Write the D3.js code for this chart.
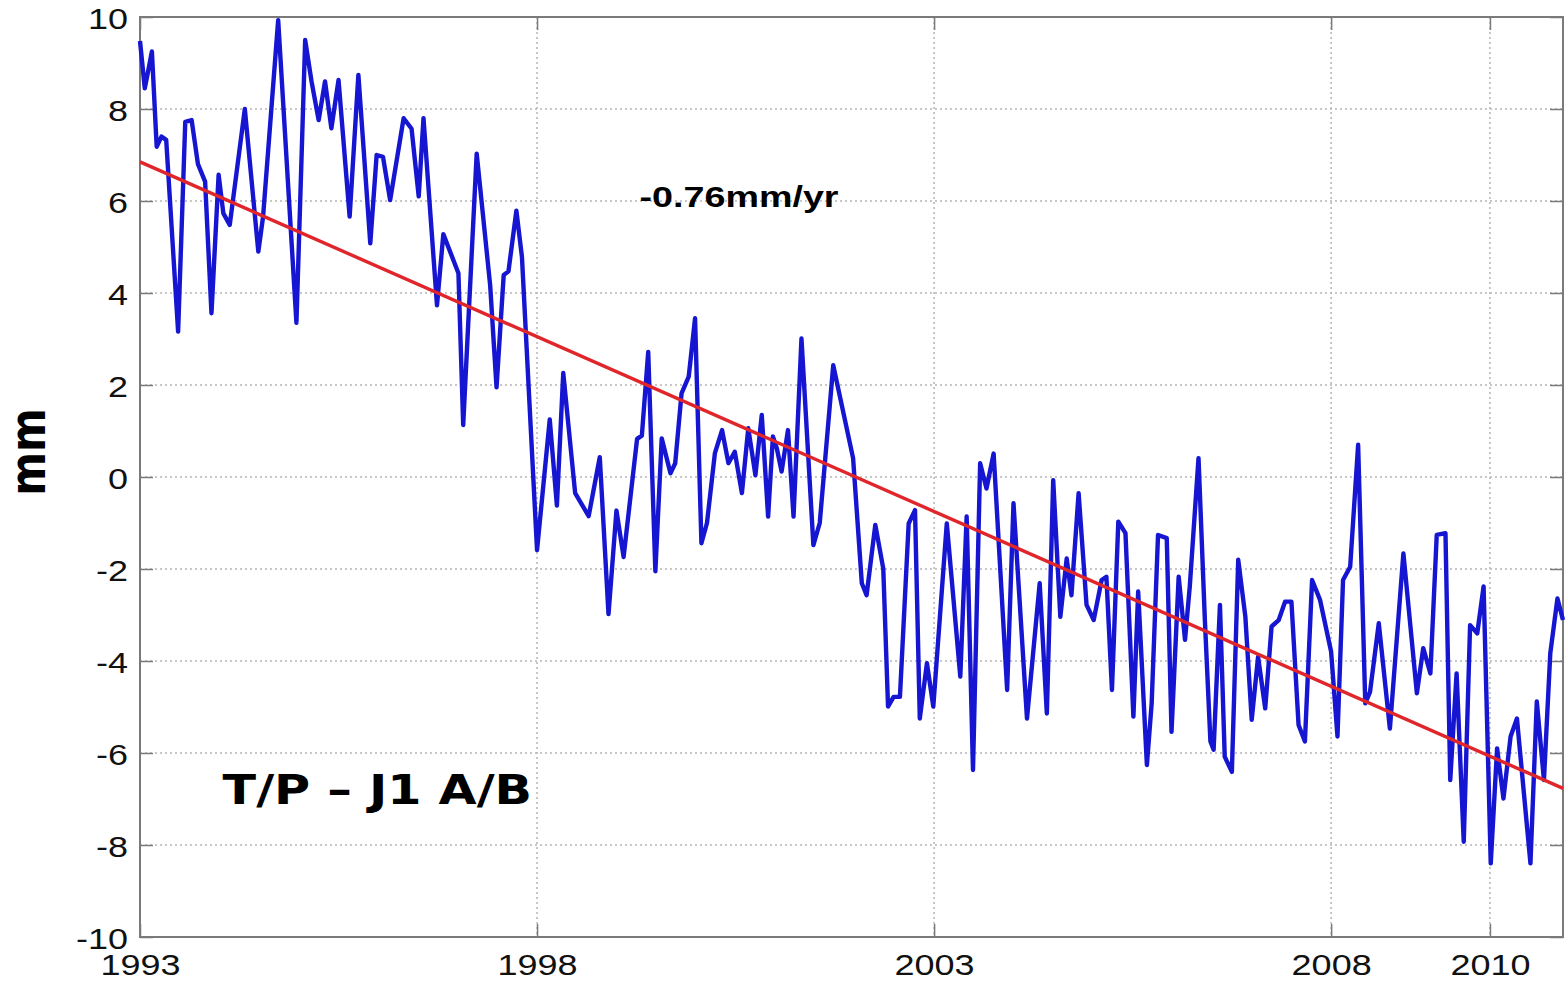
<!DOCTYPE html>
<html>
<head>
<meta charset="utf-8">
<script src="https://cdn.jsdelivr.net/npm/d3@7"></script>
<style>
body{margin:0;background:#fff;}
svg{display:block;}
</style>
</head>
<body>
<div id="chart"></div>
<script>
// sea level anomaly, mm
const years = [1993.00,1993.06,1993.10,1993.15,1993.21,1993.27,1993.33,1993.48,1993.57,1993.65,
1993.73,1993.82,1993.90,1993.99,1994.05,1994.13,1994.32,1994.49,1994.55,1994.74,
1994.97,1995.08,1995.16,1995.25,1995.33,1995.41,1995.50,1995.64,1995.75,1995.90,
1995.98,1996.06,1996.15,1996.32,1996.42,1996.51,1996.57,1996.74,1996.82,1997.01,
1997.07,1997.24,1997.41,1997.49,1997.58,1997.64,1997.74,1997.81,1998.00,1998.16,
1998.25,1998.33,1998.48,1998.65,1998.79,1998.90,1999.00,1999.09,1999.26,1999.32,
1999.40,1999.49,1999.57,1999.68,1999.74,1999.82,1999.91,1999.99,2000.07,2000.14,
2000.24,2000.33,2000.41,2000.49,2000.58,2000.66,2000.75,2000.83,2000.91,2000.97,
2001.02,2001.08,2001.16,2001.23,2001.33,2001.48,2001.56,2001.73,2001.98,2002.09,
2002.15,2002.26,2002.36,2002.42,2002.49,2002.57,2002.68,2002.76,2002.82,2002.91,
2002.99,2003.16,2003.33,2003.41,2003.49,2003.58,2003.66,2003.75,2003.92,2004.00,
2004.17,2004.33,2004.42,2004.50,2004.59,2004.67,2004.73,2004.82,2004.92,2005.01,
2005.11,2005.17,2005.24,2005.32,2005.41,2005.51,2005.57,2005.68,2005.74,2005.82,
2005.93,2005.99,2006.08,2006.16,2006.22,2006.33,2006.41,2006.48,2006.52,2006.60,
2006.66,2006.75,2006.83,2006.92,2007.00,2007.08,2007.17,2007.25,2007.34,2007.42,
2007.50,2007.59,2007.67,2007.76,2007.86,2008.00,2008.08,2008.15,2008.24,2008.34,
2008.43,2008.49,2008.60,2008.74,2008.91,2009.08,2009.16,2009.25,2009.33,2009.44,
2009.50,2009.58,2009.67,2009.75,2009.84,2009.92,2010.01,2010.09,2010.17,2010.26,
2010.34,2010.51,2010.59,2010.68,2010.76,2010.85,2010.92];

const sla = [9.48,8.45,8.8,9.25,7.18,7.4,7.33,3.16,7.72,7.76,
6.8,6.42,3.56,6.57,5.73,5.48,8.0,4.9,5.66,9.93,
3.35,9.5,8.6,7.76,8.6,7.58,8.63,5.66,8.74,5.08,
7.0,6.96,6.02,7.8,7.57,6.1,7.8,3.73,5.28,4.43,
1.13,7.03,4.16,1.95,4.39,4.47,5.79,4.78,-1.59,1.25,
-0.62,2.26,-0.35,-0.85,0.43,-2.98,-0.73,-1.74,0.83,0.9,
2.72,-2.05,0.84,0.08,0.3,1.82,2.18,3.45,-1.44,-1.0,
0.52,1.02,0.3,0.55,-0.35,1.06,0.04,1.35,-0.86,0.88,
0.62,0.12,1.02,-0.86,3.01,-1.48,-1.0,2.43,0.41,-2.31,
-2.57,-1.04,-1.99,-4.99,-4.78,-4.78,-1.01,-0.72,-5.25,-4.05,
-4.99,-1.01,-4.34,-0.86,-6.37,0.3,-0.25,0.51,-4.63,-0.57,
-5.25,-2.31,-5.14,-0.07,-3.04,-1.77,-2.57,-0.35,-2.78,-3.11,
-2.24,-2.17,-4.63,-0.97,-1.22,-5.21,-2.49,-6.26,-4.92,-1.26,
-1.33,-5.54,-2.17,-3.54,-2.38,0.41,-3.11,-5.75,-5.93,-2.78,
-6.08,-6.41,-1.8,-3.04,-5.28,-3.91,-5.03,-3.25,-3.11,-2.71,
-2.71,-5.39,-5.75,-2.24,-2.67,-3.8,-5.64,-2.24,-1.95,0.7,
-4.92,-4.67,-3.18,-5.47,-1.66,-4.7,-3.72,-4.27,-1.26,-1.22,
-6.59,-4.27,-7.93,-3.22,-3.4,-2.38,-8.4,-5.9,-6.99,-5.64,
-5.25,-8.4,-4.88,-6.59,-3.83,-2.64,-3.11];

// linear trend: value at 1993 and slope in mm/yr
const trendStart = 6.85;
const trendRate = -0.76;

const xTicks = [1993, 1998, 2003, 2008, 2010];
const yTicks = [-10, -8, -6, -4, -2, 0, 2, 4, 6, 8, 10];
const xDomain = [1993, 2010.92];

const W = 1565;
const H = 982;
const margin = {t:17, r:2, b:45, l:140};
const innerWidth = W - margin.l - margin.r;
const innerHeight = H - margin.t - margin.b;
const stretch = 'scale(1.2,1)';

const scaleX = d3.scaleLinear().domain(xDomain).range([0, innerWidth]);
const scaleY = d3.scaleLinear().domain([-10, 10]).range([innerHeight, 0]);

const svg = d3.select('#chart').append('svg')
	.attr('width', W)
	.attr('height', H)
	.style('background', '#fff');

const plot = svg.append('g')
	.attr('transform', `translate(${margin.l}, ${margin.t})`);

//dotted grid
plot.append('g')
	.selectAll('line.gx')
	.data(xTicks.slice(1))
	.join('line')
	.attr('x1', d => scaleX(d)).attr('x2', d => scaleX(d))
	.attr('y1', 0).attr('y2', innerHeight);
plot.append('g')
	.selectAll('line.gy')
	.data(yTicks.slice(1, -1))
	.join('line')
	.attr('x1', 0).attr('x2', innerWidth)
	.attr('y1', d => scaleY(d)).attr('y2', d => scaleY(d));
plot.selectAll('g line')
	.style('stroke', '#b5b5b5')
	.style('stroke-width', '1.5px')
	.style('stroke-dasharray', '2,3');

//axes with inward ticks on all four sides
const axisX = d3.axisBottom(scaleX).tickValues(xTicks).tickSize(-13).tickPadding(17).tickFormat(d => String(d));
const axisY = d3.axisLeft(scaleY).tickValues(yTicks).tickSize(-13).tickPadding(10).tickFormat(d => String(d));
const axisTop = d3.axisTop(scaleX).tickValues(xTicks).tickSize(-13).tickFormat('');
const axisRight = d3.axisRight(scaleY).tickValues(yTicks).tickSize(-13).tickFormat('');

plot.append('g').attr('class', 'axis').attr('transform', `translate(0, ${innerHeight})`).call(axisX);
plot.append('g').attr('class', 'axis').call(axisY);
plot.append('g').attr('class', 'axis').call(axisTop);
plot.append('g').attr('class', 'axis').attr('transform', `translate(${innerWidth}, 0)`).call(axisRight);

plot.selectAll('.axis .domain').remove();
plot.selectAll('.axis line')
	.style('stroke', '#7a7a7a')
	.style('stroke-width', '1.5px');
plot.selectAll('.axis text')
	.style('font-family', '"Liberation Sans", Arial, sans-serif')
	.style('font-size', '30px')
	.style('fill', '#111')
	.attr('transform', stretch);
plot.selectAll('.axis text').filter(function(){ return this.getAttribute('dy') === '0.32em'; })
	.attr('dy', '0.38em');

plot.append('rect')
	.attr('width', innerWidth)
	.attr('height', innerHeight)
	.style('fill', 'none')
	.style('stroke', '#7a7a7a')
	.style('stroke-width', '2px');

//trend line
const trend = xDomain.map(t => ({t: t, v: trendStart + trendRate * (t - xDomain[0])}));
const lineGenerator = d3.line()
	.x(d => scaleX(d.t))
	.y(d => scaleY(d.v));

const series = years.map((t, i) => ({t: t, v: sla[i]}));

plot.append('path')
	.datum(series)
	.attr('d', lineGenerator)
	.style('fill', 'none')
	.style('stroke', '#1515d2')
	.style('stroke-width', '4.4px')
	.style('stroke-linejoin', 'round');

plot.append('path')
	.datum(trend)
	.attr('d', lineGenerator)
	.style('fill', 'none')
	.style('stroke', '#e0262a')
	.style('stroke-width', '3.4px');

//labels
plot.append('text')
	.attr('transform', `translate(${scaleX(1999.29)}, ${scaleY(5.86)}) scale(1.3,1)`)
	.style('font-family', '"Liberation Sans", Arial, sans-serif')
	.style('font-weight', 'bold')
	.style('font-size', '29px')
	.text('-0.76mm/yr');

plot.append('text')
	.attr('transform', `translate(${scaleX(1994.04)}, ${scaleY(-7.1)}) ${stretch}`)
	.style('font-family', '"DejaVu Sans", Verdana, sans-serif')
	.style('font-weight', 'bold')
	.style('font-size', '41px')
	.text('T/P – J1 A/B');

svg.append('text')
	.attr('transform', `translate(45, 452) ${stretch} rotate(-90)`)
	.attr('text-anchor', 'middle')
	.style('font-family', '"DejaVu Sans", Verdana, sans-serif')
	.style('font-weight', 'bold')
	.style('font-size', '42px')
	.text('mm');
</script>
</body>
</html>
